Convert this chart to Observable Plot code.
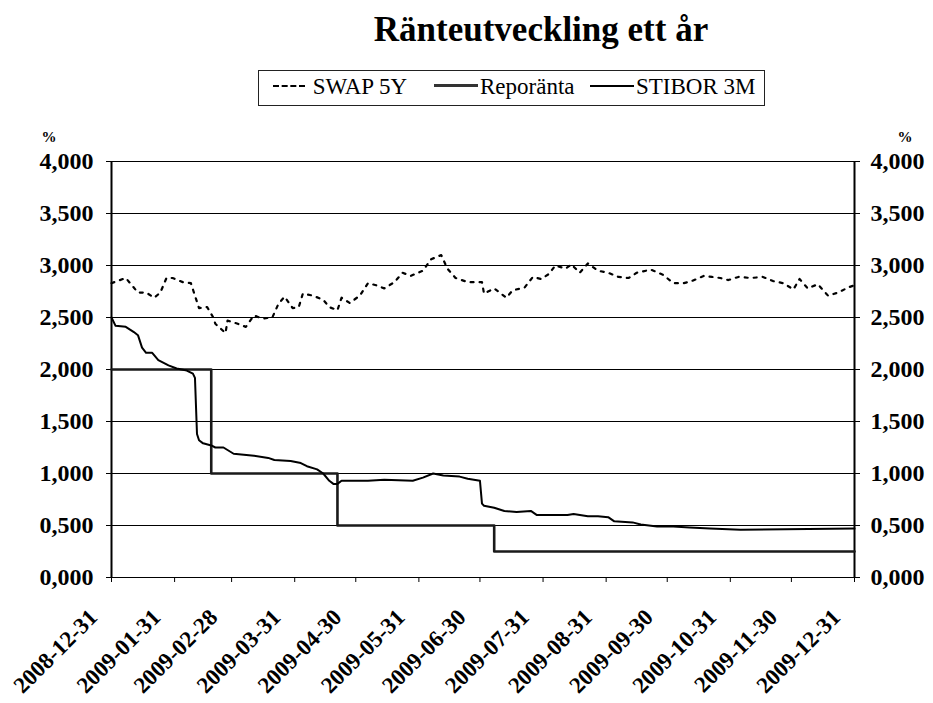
<!DOCTYPE html>
<html>
<head>
<meta charset="utf-8">
<script src="https://cdn.jsdelivr.net/npm/d3@7"></script>
<script src="https://cdn.jsdelivr.net/npm/@observablehq/plot@0.6"></script>
<style>
  html, body { margin: 0; padding: 0; background: #fff; }
  body { width: 933px; height: 703px; font-family: "Liberation Serif", "DejaVu Serif", serif; color: #000; }
  #title { position: absolute; left: 0; width: 1082px; top: 10px; text-align: center; font-size: 35px; font-weight: bold; }
  #legend { position: absolute; left: 258px; top: 70px; width: 505px; height: 34px; border: 1px solid #222; font-size: 23px; }
  .item { position: absolute; top: 3px; white-space: nowrap; }
  .sw { display: inline-block; vertical-align: middle; width: 44px; height: 0; margin-right: 2px; position: relative; top: -3px; }
  #chart { position: absolute; left: 0; top: 110px; }
</style>
</head>
<body>
<div id="title">Ränteutveckling ett år</div>
<div id="legend">
  <div class="item" style="left:14px"><span class="sw" style="width:32px;border-top:2px dashed #000;"></span> SWAP 5Y</div>
  <div class="item" style="left:175px"><span class="sw" style="border-top:3px solid #333;"></span>Reporänta</div>
  <div class="item" style="left:331px"><span class="sw" style="border-top:2px solid #000;"></span>STIBOR 3M</div>
</div>
<div id="chart"></div>
<script>
const seriesNames = ["SWAP 5Y", "Reporänta", "STIBOR 3M"];

const swapDates = ["2008-12-31","2009-01-07","2009-01-10","2009-01-13","2009-01-17","2009-01-21","2009-01-24","2009-01-27","2009-01-30","2009-02-04","2009-02-08","2009-02-10","2009-02-12","2009-02-16","2009-02-19","2009-02-20","2009-02-25","2009-02-26","2009-03-03","2009-03-07","2009-03-11","2009-03-15","2009-03-20","2009-03-23","2009-03-26","2009-03-30","2009-04-02","2009-04-04","2009-04-09","2009-04-14","2009-04-17","2009-04-21","2009-04-23","2009-04-27","2009-05-02","2009-05-06","2009-05-10","2009-05-14","2009-05-19","2009-05-23","2009-05-27","2009-06-02","2009-06-06","2009-06-11","2009-06-14","2009-06-18","2009-06-24","2009-07-01","2009-07-02","2009-07-07","2009-07-13","2009-07-16","2009-07-22","2009-07-26","2009-07-30","2009-08-03","2009-08-06","2009-08-11","2009-08-14","2009-08-18","2009-08-22","2009-08-27","2009-09-01","2009-09-06","2009-09-11","2009-09-15","2009-09-22","2009-09-28","2009-10-03","2009-10-08","2009-10-12","2009-10-18","2009-10-22","2009-10-26","2009-10-30","2009-11-04","2009-11-10","2009-11-16","2009-11-21","2009-11-26","2009-12-01","2009-12-04","2009-12-08","2009-12-13","2009-12-18","2009-12-23","2009-12-28","2009-12-31"];
const swapValues = [2.83,2.88,2.81,2.74,2.74,2.69,2.74,2.88,2.88,2.84,2.83,2.71,2.59,2.60,2.50,2.44,2.35,2.47,2.44,2.41,2.52,2.49,2.50,2.63,2.70,2.59,2.60,2.73,2.71,2.67,2.60,2.57,2.69,2.64,2.71,2.83,2.81,2.78,2.84,2.93,2.90,2.95,3.06,3.10,2.97,2.88,2.84,2.84,2.73,2.78,2.69,2.76,2.79,2.89,2.87,2.92,3.00,2.97,3.01,2.93,3.02,2.95,2.93,2.89,2.88,2.93,2.96,2.91,2.83,2.83,2.85,2.90,2.89,2.88,2.86,2.89,2.88,2.89,2.85,2.83,2.77,2.87,2.78,2.82,2.71,2.74,2.79,2.81];

const repoDates = ["2008-12-31","2009-02-18","2009-04-21","2009-07-07","2009-12-31"];
const repoValues = [2.00,1.00,0.50,0.25,0.25];

const stiborDates = ["2008-12-31","2009-01-02","2009-01-07","2009-01-11","2009-01-13","2009-01-15","2009-01-17","2009-01-20","2009-01-23","2009-01-28","2009-02-01","2009-02-06","2009-02-09","2009-02-10","2009-02-11","2009-02-12","2009-02-14","2009-02-18","2009-02-20","2009-02-24","2009-03-01","2009-03-06","2009-03-11","2009-03-18","2009-03-21","2009-03-29","2009-04-03","2009-04-06","2009-04-11","2009-04-14","2009-04-17","2009-04-19","2009-04-21","2009-04-23","2009-05-06","2009-05-14","2009-05-28","2009-06-02","2009-06-07","2009-06-12","2009-06-20","2009-06-24","2009-06-30","2009-07-01","2009-07-02","2009-07-07","2009-07-12","2009-07-18","2009-07-25","2009-07-28","2009-08-12","2009-08-15","2009-08-22","2009-08-27","2009-09-01","2009-09-04","2009-09-13","2009-09-17","2009-09-25","2009-10-03","2009-10-11","2009-10-21","2009-11-05","2009-12-31"];
const stiborValues = [2.50,2.42,2.41,2.36,2.33,2.21,2.16,2.16,2.09,2.04,2.01,1.99,1.96,1.92,1.38,1.32,1.29,1.27,1.25,1.25,1.19,1.18,1.17,1.15,1.13,1.12,1.10,1.07,1.04,1.00,0.93,0.90,0.90,0.93,0.93,0.94,0.93,0.96,1.00,0.98,0.97,0.95,0.93,0.71,0.69,0.67,0.64,0.63,0.64,0.60,0.60,0.61,0.59,0.59,0.58,0.54,0.53,0.51,0.49,0.49,0.48,0.47,0.46,0.47];

const yTickValues = [0,0.5,1,1.5,2,2.5,3,3.5,4];
const xTickLabels = ["2008-12-31","2009-01-31","2009-02-28","2009-03-31","2009-04-30","2009-05-31","2009-06-30","2009-07-31","2009-08-31","2009-09-30","2009-10-31","2009-11-30","2009-12-31"];

const parse = d3.utcParse("%Y-%m-%d");
const fmtDate = d3.utcFormat("%Y-%m-%d");
const swap = swapDates.map((d, i) => ({date: parse(d), value: swapValues[i]}));
const repo = repoDates.map((d, i) => ({date: parse(d), value: repoValues[i]}));
const stibor = stiborDates.map((d, i) => ({date: parse(d), value: stiborValues[i]}));
const xTicks = xTickLabels.map(parse);
const fmtY = d => d.toFixed(3).replace(".", ",");

const axisFont = {fontSize: 24, fontWeight: "bold"};

const chart = Plot.plot({
  width: 933,
  height: 593,
  marginTop: 51,
  marginBottom: 126,
  marginLeft: 111,
  marginRight: 79,
  style: {fontFamily: "Liberation Serif, serif", fontSize: "22px", color: "#000", background: "#fff", overflow: "visible"},
  x: {type: "utc", domain: [xTicks[0], xTicks[xTicks.length - 1]]},
  y: {domain: [0, 4]},
  marks: [
    Plot.ruleY(yTickValues, {stroke: "#000", strokeWidth: 1.2}),
    Plot.ruleX([xTicks[0], xTicks[xTicks.length - 1]], {stroke: "#000", strokeWidth: 2}),
    Plot.axisY({anchor: "left", ticks: yTickValues, tickFormat: fmtY, tickSize: 5, tickPadding: 13, label: null, ...axisFont}),
    Plot.axisY({anchor: "right", ticks: yTickValues, tickFormat: fmtY, tickSize: 5, tickPadding: 11, label: null, ...axisFont}),
    Plot.axisX({ticks: xTicks, tickFormat: () => "", tickSize: 5, label: null}),
    Plot.axisX({ticks: xTicks, tickFormat: fmtDate, tickRotate: -45, tickSize: 0, tickPadding: 36, dx: -18, label: null, fontSize: 23, fontWeight: "bold"}),
    Plot.line(swap, {x: "date", y: "value", stroke: "#000", strokeWidth: 2.2, strokeDasharray: "3,6"}),
    Plot.line(repo, {x: "date", y: "value", curve: "step-after", stroke: "#1a1a1a", strokeWidth: 2.6}),
    Plot.line(stibor, {x: "date", y: "value", stroke: "#000", strokeWidth: 2}),
    Plot.text(["%"], {frameAnchor: "top-left", dx: -70, dy: -30, fontSize: 15, fontWeight: "bold"}),
    Plot.text(["%"], {frameAnchor: "top-right", dx: 58, dy: -30, fontSize: 15, fontWeight: "bold"})
  ]
});
document.getElementById("chart").appendChild(chart);
</script>
</body>
</html>
